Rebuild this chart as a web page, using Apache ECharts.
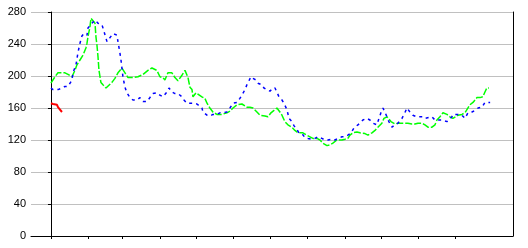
<!DOCTYPE html>
<html>
<head>
<meta charset="utf-8">
<script src="https://cdn.jsdelivr.net/npm/echarts@6/dist/echarts.min.js"></script>
<style>html,body{margin:0;padding:0;background:#fff;}#c{width:528px;height:248px;}</style>
</head>
<body>
<div id="c"></div>
<script>
// Day-of-year positions and values
var greenX = [0,3.3,5.8,11.6,14.1,17.4,19.8,21.5,24.0,26.5,28.9,29.8,30.6,32.2,33.1,34.7,36.4,37.2,38.0,38.9,39.7,41.3,43.0,45.5,47.1,50.4,52.9,55.4,58.7,61.2,63.7,67.8,71.9,76.1,80.2,83.5,87.6,90.1,92.6,94.2,96.7,100.0,102.5,105.0,108.3,110.8,113.3,114.9,116.6,117.4,119.9,121.5,124.8,127.3,129.0,131.4,133.9,137.2,141.4,145.5,148.0,150.5,153.8,157.9,158.7,162.0,164.5,167.0,170.3,172.8,176.9,179.4,181.9,184.4,186.8,189.3,191.0,193.4,195.9,199.2,201.7,204.2,208.3,211.6,214.1,216.6,219.9,222.4,224.9,228.2,230.6,233.1,236.4,240.6,243.1,245.5,247.2,249.7,253.0,255.5,259.6,262.1,265.4,267.9,270.3,273.6,275.3,277.8,278.6,281.1,284.4,286.9,290.2,292.6,295.1,298.4,300.9,303.4,306.7,309.2,311.7,315.0,317.5,319.1,321.6,324.1,327.4,329.9,332.3,336.5,339.8,342.3,346.4,348.9,352.2,354.7,357.1,358.8,360.4,362.1];
var greenY = [191,199,204,204,202,199,207,214,220,226,235,241,249,261,272,274,266,249,239,224,207,192,189,185,187,192,197,204,210,204,198,198,199,202,207,210,207,199,198,195,204,204,198,194,201,207,198,186,183,174,179,181,174,172,166,160,155,152,152,154,156,160,164,165,166,161,161,160,155,151,150,149,154,157,160,155,151,143,139,136,132,129,129,126,124,122,122,120,116,113,114,116,120,120,121,122,126,129,130,129,128,126,129,132,136,141,147,149,149,143,140,141,141,141,141,140,140,141,141,139,136,136,139,145,149,154,152,149,147,151,152,154,164,167,173,173,174,180,185,185];
var blueX = [0,1.7,5.8,9.1,11.6,14.1,17.4,18.2,20.7,22.3,24.0,25.6,27.3,29.8,30.6,33.9,36.4,38.9,40.5,42.2,43.8,46.3,48.8,51.3,54.6,55.4,57.0,57.9,59.5,61.2,62.8,65.3,67.8,71.1,73.6,76.1,79.4,81.8,84.3,87.6,90.1,92.6,95.9,97.6,100.0,102.5,105.0,108.3,110.0,112.4,114.9,117.4,120.7,122.4,123.2,124.8,125.7,129.0,131.4,133.9,137.2,139.7,142.2,145.5,148.0,150.5,153.8,156.2,157.9,160.4,162.0,163.7,165.3,167.0,169.5,171.1,174.4,176.1,178.6,181.1,183.5,185.2,186.8,188.5,191.0,192.6,195.1,196.8,199.2,200.9,203.4,205.0,207.5,210.0,212.5,215.8,218.3,220.7,224.0,226.5,229.0,232.3,234.8,237.3,240.6,243.1,245.5,248.1,250.5,253.8,255.5,257.9,261.2,263.7,266.2,269.5,271.2,272.8,274.5,276.1,277.8,279.4,281.9,284.4,286.9,290.2,292.6,294.3,296.8,299.2,302.6,305.0,307.5,309.2,315.0,317.5,320.0,323.3,327.4,331.5,332.3,336.5,339.8,342.3,344.8,348.1,350.6,353.1,356.4,358.8,361.3,363.1];
var blueY = [185,183,183,185,187,187,195,204,214,229,241,250,253,251,260,266,270,266,266,264,256,243,248,253,251,243,229,220,199,186,179,173,170,170,173,168,168,173,178,179,176,174,180,185,180,178,178,174,170,166,166,166,165,163,161,160,155,151,150,152,152,154,154,155,160,166,167,172,176,183,189,194,199,197,195,191,189,185,183,181,185,185,180,174,170,166,158,147,143,138,133,129,128,123,122,121,122,124,122,120,120,121,120,122,124,124,126,129,135,139,141,145,147,145,141,139,147,154,160,155,149,143,136,139,141,147,154,160,155,151,149,149,149,147,149,145,145,145,143,149,152,152,151,147,154,155,157,160,161,167,167,167];
var redX = [0,1.7,5.0,5.8,7.4,9.1];
var redY = [166,165,164,161,159,155];
var monthStarts = [0,31,59,90,120,151,181,212,243,273,304,334];
var yMin = 0, yMax = 280, yStep = 40;

function pairs(xs, ys){ return xs.map(function(x,i){ return [x, ys[i]]; }); }

var chart = echarts.init(document.getElementById('c'), null, {renderer:'canvas'});
chart.setOption({
  animation: false,
  backgroundColor: '#ffffff',
  grid: {left: 31, right: 15, top: 12, bottom: 12, containLabel: false},
  xAxis: {
    type: 'value', min: -16.5, max: 382,
    axisLine: {show: true, onZero: false, lineStyle: {color: '#000', width: 1}},
    axisTick: {show: true, customValues: monthStarts, length: 3, inside: false, lineStyle: {color: '#000'}},
    axisLabel: {show: false},
    splitLine: {show: false}
  },
  yAxis: [{
    type: 'value', min: yMin, max: yMax, interval: yStep,
    axisLine: {show: true, lineStyle: {color: '#000', width: 1}},
    axisTick: {show: true, length: 3, lineStyle: {color: '#000'}},
    axisLabel: {color: '#000', fontSize: 11, fontFamily: 'Liberation Sans, Arial, sans-serif', margin: 5},
    splitLine: {show: true, lineStyle: {color: '#c0c0c0', width: 1}}
  }, {
    type: 'value', min: yMin, max: yMax, position: 'right',
    axisLine: {show: true, lineStyle: {color: '#000', width: 1}},
    axisTick: {show: false}, axisLabel: {show: false}, splitLine: {show: false}
  }],
  series: [
    {type: 'line', data: pairs(greenX, greenY), symbol: 'none', lineStyle: {color: '#00ff00', width: 1.5, type: [7, 2]}},
    {type: 'line', data: pairs(blueX, blueY), symbol: 'none', lineStyle: {color: '#0000ff', width: 1.5, type: [3, 4]}},
    {type: 'line', data: pairs(redX, redY), symbol: 'none', lineStyle: {color: '#ff0000', width: 2}}
  ]
});
</script>
</body>
</html>
